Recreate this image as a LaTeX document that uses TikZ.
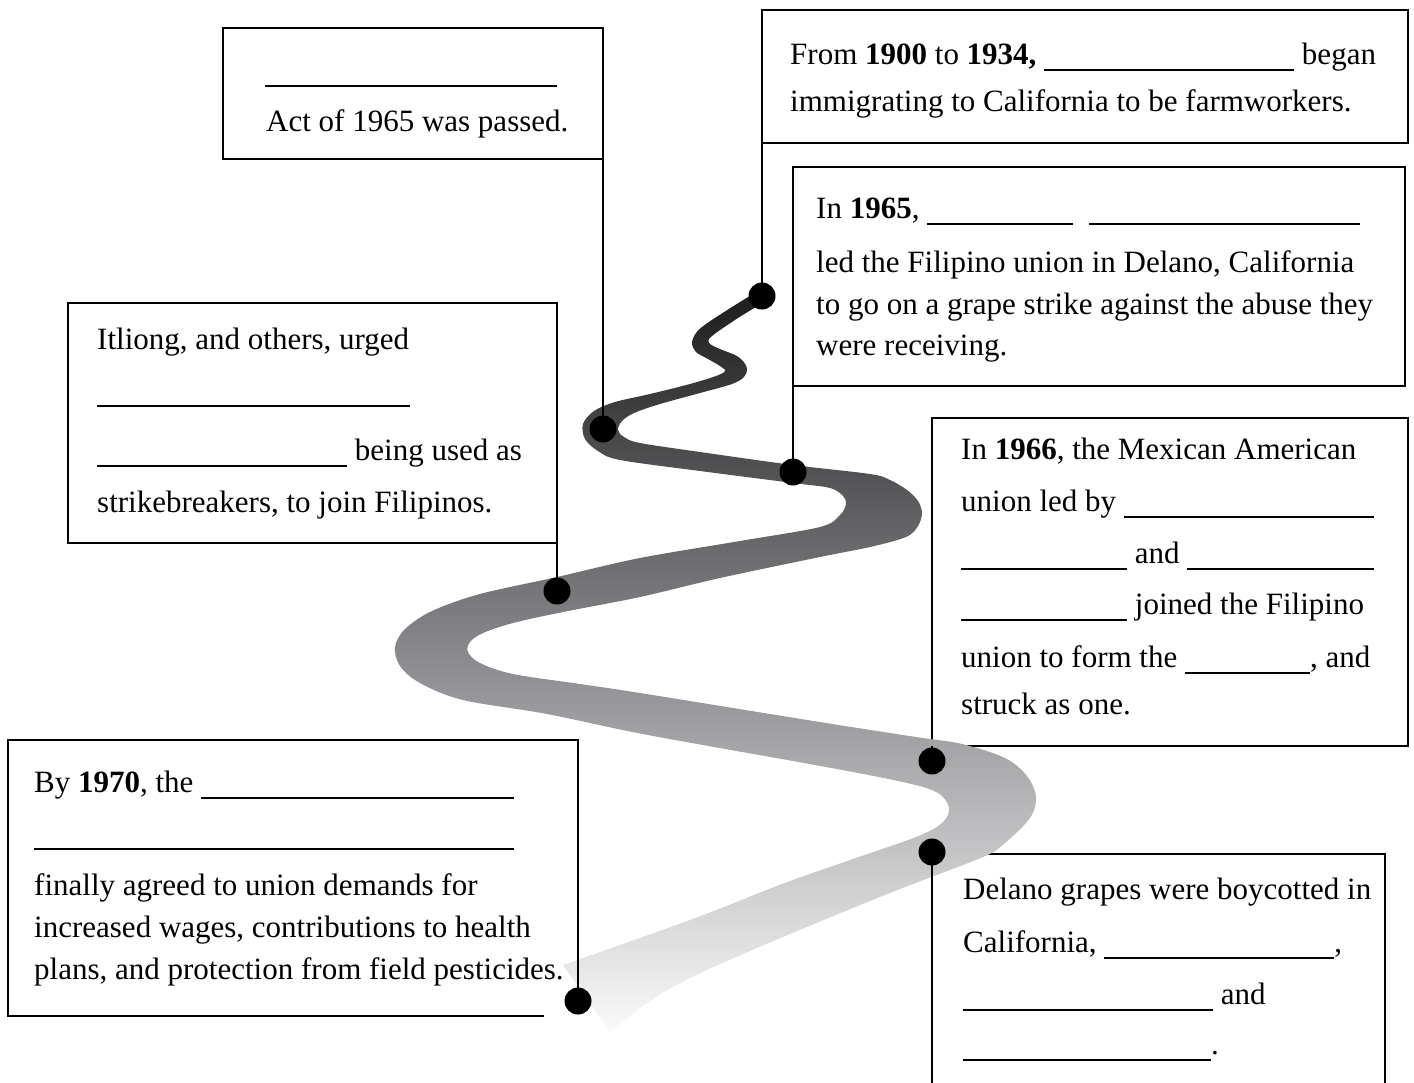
\documentclass[tikz,border=0pt]{standalone}
\usepackage{fontspec}
\setmainfont{Liberation Serif}
\newcommand{\myblank}[1]{\rule[-7pt]{#1pt}{2pt}}
\begin{document}
\begin{tikzpicture}[x=1pt,y=-1pt,
  txt/.style={anchor=base west, inner sep=0pt, font=\fontsize{31}{38}\selectfont},
  boxline/.style={line width=2.3pt, line cap=rect},
  conn/.style={line width=2.3pt},
  dot/.style={circle, fill=black, inner sep=0pt, minimum size=27pt}]
\useasboundingbox (0,0) rectangle (1414,1082);
% ---- boxes ----
\draw[boxline] (223,28) rectangle (603,159);
\draw[boxline] (762,10) rectangle (1408,143);
\draw[boxline] (793,167) rectangle (1405,386);
\draw[boxline] (68,303) rectangle (557,543);
\draw[boxline] (968,746) -- (1408,746) -- (1408,418) -- (932,418) -- (932,746);
\draw[boxline] (543,1016) -- (8,1016) -- (8,740) -- (578,740);
\draw[boxline] (973,854) -- (1385,854) -- (1385,1084);
% ---- road ----
\shade[top color={rgb,255:red,28;green,28;blue,28}, bottom color={rgb,255:red,250;green,250;blue,250}, middle color={rgb,255:red,140;green,140;blue,144}]
  plot[smooth, tension=0.55] coordinates {
  (758,291) (732,307) (706,324) (696,333) (692,343) (696,352) (708,359) (720,366) (725,371)
  (716,376) (690,384) (650,394) (615,402) (594,411) (583,424) (585,439) (598,451) (620,460)
  (700,471) (793,483) (830,488) (843,496) (846,504) (840,515) (820,527) (740,541) (640,558)
  (557,577) (480,594) (432,611) (405,629) (395,647) (400,666) (420,683) (463,700) (547,714)
  (648,735) (826,767) (907,783) (938,793) (949,808) (942,823) (916,837) (850,860) (782,884)
  (690,920) (563,965)}
  -- plot[smooth, tension=0.55] coordinates {
  (610,1032) (650,1001) (690,978) (750,951) (826,919) (900,889) (983,857) (1005,843) (1030,818)
  (1036,797) (1027,776) (1005,758) (962,744) (916,737) (826,723) (640,693) (580,684) (513,674)
  (480,663) (468,652) (470,642) (483,633) (513,623) (563,612) (640,597) (720,578) (820,557)
  (870,547) (906,537) (918,526) (922,513) (918,501) (907,490) (890,480) (870,474) (793,465)
  (700,452) (640,443) (624,437) (618,430) (622,421) (634,413) (660,404) (700,393) (732,384)
  (744,377) (747,369) (743,361) (735,355) (720,349) (709,343) (712,336) (738,318) (766,301)}
  -- cycle;
% ---- dots ----
\node[dot] (dB) at (762,296) {};
\node[dot] (dA) at (603,429) {};
\node[dot] (dC) at (793,472) {};
\node[dot] (dD) at (557,591) {};
\node[dot] (dE) at (932,761) {};
\node[dot] (dG) at (932,852) {};
\node[dot] (dF) at (578,1001) {};
\coordinate (cA) at (603,159);
\coordinate (cB) at (762,143);
\coordinate (cC) at (793,386);
\coordinate (cD) at (557,543);
\coordinate (cE) at (932,746);
\coordinate (cF) at (578,740);
\coordinate (cG) at (932,1084);
% ---- connectors ----
\draw[conn] (cA) -- (dA.center);
\draw[conn] (cB) -- (dB.center);
\draw[conn] (cC) -- (dC.center);
\draw[conn] (cD) -- (dD.center);
\draw[conn] (cE) -- (dE.center);
\draw[conn] (cF) -- (dF.center);
\draw[conn] (dG.center) -- (cG);
% ---- texts ----
\node[txt] (a1) at (265,80) {\myblank{292}};
\node[txt] (a2) at (266,131) {Act of 1965 was passed.};
\node[txt] (b1) at (790,64) {From \textbf{1900} to \textbf{1934,} \myblank{250} began};
\node[txt] (b2) at (790,111) {immigrating to California to be farmworkers.};
\node[txt] (c1) at (816,218) {In \textbf{1965}, \myblank{146}\hspace{16pt}\myblank{271}};
\node[txt] (c2) at (816,272) {led the Filipino union in Delano, California};
\node[txt] (c3) at (816,314) {to go on a grape strike against the abuse they};
\node[txt] (c4) at (816,355) {were receiving.};
\node[txt] (d1) at (97,349) {Itliong, and others, urged};
\node[txt] (d2) at (97,400) {\myblank{313}};
\node[txt] (d3) at (97,460) {\myblank{250} being used as};
\node[txt] (d4) at (97,512) {strikebreakers, to join Filipinos.};
\node[txt] (e1) at (961,459) {In \textbf{1966}, the Mexican American};
\node[txt] (e2) at (961,511) {union led by \myblank{250}};
\node[txt] (e3) at (961,563) {\myblank{166} and \myblank{187}};
\node[txt] (e4) at (961,614) {\myblank{166} joined the Filipino};
\node[txt] (e5) at (961,667) {union to form the \myblank{125}, and};
\node[txt] (e6) at (961,714) {struck as one.};
\node[txt] (f1) at (34,792) {By \textbf{1970}, the \myblank{313}};
\node[txt] (f2) at (34,843) {\myblank{480}};
\node[txt] (f3) at (34,895) {finally agreed to union demands for};
\node[txt] (f4) at (34,937) {increased wages, contributions to health};
\node[txt] (f5) at (34,979) {plans, and protection from field pesticides.};
\node[txt] (g1) at (963,899) {Delano grapes were boycotted in};
\node[txt] (g2) at (963,952) {California, \myblank{230},};
\node[txt] (g3) at (963,1004) {\myblank{250} and};
\node[txt] (g4) at (963,1054) {\myblank{248}.};
\end{tikzpicture}
\end{document}
